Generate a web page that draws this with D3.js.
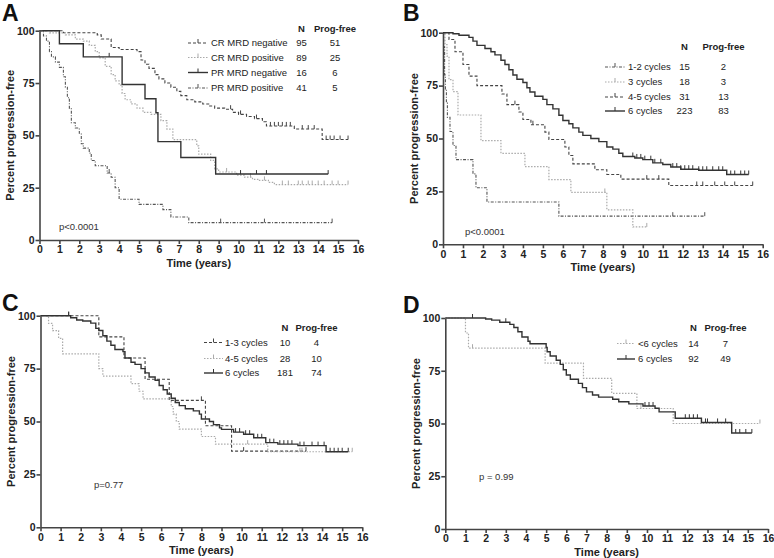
<!DOCTYPE html>
<html lang="en">
<head>
<meta charset="UTF-8">
<title>Progression-free survival, four panels</title>
<script src="https://d3js.org/d3.v7.min.js"></script>
<style>
    body { margin: 0; background: #fff; }
    svg { font-family: Arial, "Liberation Sans", sans-serif; }
    .tick text { font-weight: bold; font-size: 10.5px; fill: #222; }
    .axis path, .axis line { stroke: #444; stroke-width: 1.6; }
</style>
</head>
<body>
<svg id="chart" width="774" height="558"></svg>
<script>
// ---- data: [time in years, percent progression-free] ----
const xTicks = d3.range(0, 17);
const yTicks = [0, 25, 50, 75, 100];

// Panel A
const aCrNeg = [[0,100],[1.2,99],[2.9,98],[3.1,96],[3.6,92],[4.0,91],[4.9,90],[5.1,86],[5.3,84],[5.5,82],[5.8,79],[6.0,77],[6.3,75],[6.6,73],[6.9,71],[7.1,69],[7.4,67],[7.8,66],[8.2,65],[8.5,64],[8.8,63],[9.3,62.5],[9.7,61],[10.0,60],[10.4,59],[10.8,58],[11.2,56.5],[11.4,54.5],[12.8,53],[14.2,48]];
const aCrNegCens = [9.6,10.1,10.9,11.6,11.8,12.0,12.2,12.4,12.6,13.2,13.5,13.8,14.4,14.6,14.8,15.1,15.5];
const aCrPos = [[0,100],[0.5,99],[1.3,98],[1.8,96],[2.2,95],[2.5,93],[2.8,90],[3.0,87],[3.3,83],[3.6,79],[3.8,76],[4.0,74],[4.15,70],[4.3,67],[4.6,65],[4.9,63],[5.2,61],[5.6,60],[6.1,57],[6.4,53],[6.7,48],[7.9,45],[8.0,41],[8.6,38],[8.8,34],[9.0,32.5],[9.9,31],[10.3,30],[10.7,29],[11.0,28.5],[11.5,27.5],[11.8,26.5]];
const aCrPosCens = [9.4,10.6,11.3,12.2,12.5,13.0,13.2,13.5,13.7,14.0,14.3,14.7,15.0,15.5];
const aPrNeg = [[0,100],[1.0,93.75],[2.2,87.5],[4.15,74.3],[5.3,67.5],[5.85,60.8],[5.95,47],[7.1,39.4],[8.85,31.5]];
const aPrNegCens = [3.5,10.1,10.9,11.4,14.5];
const aPrPos = [[0,100],[0.2,97.5],[0.35,95],[0.5,90],[0.6,87.5],[0.8,85],[1.0,82.5],[1.2,78],[1.3,73],[1.4,68],[1.5,63],[1.6,56],[1.8,53.5],[2.0,51],[2.1,46],[2.2,43.9],[2.5,41.5],[2.6,38],[2.8,35.5],[3.4,32],[3.6,30],[3.8,25],[4.0,19.5],[5.0,17],[6.2,14.5],[6.6,11],[7.5,8.3]];
const aPrPosCens = [3.5,9.1,11.3,14.7];

// Panel B
const b12 = [[0,100],[0.03,93.3],[0.08,80],[0.12,73.3],[0.17,66.7],[0.22,60],[0.35,53.3],[0.5,46.7],[0.65,40],[1.5,33.3],[1.65,26.7],[2.2,20],[5.8,13.3]];
const b12Cens = [11.5,13.1];
const b3 = [[0,100],[0.1,94.4],[0.2,88.9],[0.3,77.8],[0.5,72.2],[0.75,61.1],[1.9,49],[2.9,43],[4.1,36.7],[5.3,30.6],[6.4,24.5],[8.2,16.3],[9.5,8.2]];
const b3Cens = [8.1,10.2];
const b45 = [[0,100],[0.3,96.8],[0.6,91],[1.0,85],[1.3,79.5],[1.7,75],[2.95,71],[3.2,66],[3.8,62.5],[4.0,59],[4.4,56.5],[5.1,53],[5.3,49.5],[6.1,46],[6.3,42],[6.5,38],[7.6,35.2],[8.2,33],[8.9,30.8],[11.3,27.8]];
const b45Cens = [3.6,4.5,10.2,10.8,12.7,13.0,13.6,14.1,14.6,15.5];
const b6 = [[0,100],[0.5,99.5],[0.8,98.8],[1.3,97.8],[1.5,96],[1.7,94],[2.1,92.5],[2.4,91],[2.6,89.5],[2.9,87],[3.1,85],[3.3,82.5],[3.5,80],[3.7,78],[4.0,76.5],[4.2,74],[4.35,72],[4.6,70],[5.0,68.5],[5.2,66],[5.5,64],[5.8,61],[6.0,58.5],[6.3,57],[6.5,55],[6.8,53],[7.0,51.5],[7.4,50],[7.8,48.5],[8.2,46],[8.5,45],[8.8,43],[9.0,41.5],[9.6,40.8],[10.0,40],[10.5,38.5],[11.0,37.7],[11.4,36.5],[11.9,35.5],[12.8,35],[14.2,33]];
const b6Cens = [9.5,9.7,9.9,10.1,10.4,10.6,10.9,11.5,11.7,11.9,12.1,12.3,12.5,12.8,13.0,13.2,13.5,13.8,14.0,14.4,14.6,14.9,15.1,15.3];

// Panel C
const c13 = [[0,100],[2.9,90],[4.15,80],[5.2,70],[6.4,60],[8.2,48],[9.5,36]];
const c13Cens = [1.4,8.0,10.1,13.2];
const c45 = [[0,100],[0.4,96.4],[0.6,92.9],[0.9,89.3],[1.1,82],[2.9,75],[3.1,71.4],[4.5,67.9],[4.9,64.3],[5.1,60.7],[6.5,57.1],[6.6,53.5],[6.75,50],[6.9,46.4],[8.0,42.9],[8.7,39.3],[11.3,35.7]];
const c45Cens = [10.3,12.9,13.0,15.5];
const c6 = [[0,100],[1.5,99],[1.8,98],[2.1,97.5],[2.5,96.5],[2.75,94],[2.9,93],[3.1,90.5],[3.3,88],[3.5,86],[3.7,84],[4.1,83],[4.2,80],[4.5,78],[4.7,77],[5.0,75],[5.2,73],[5.4,71],[5.7,69.5],[5.9,67],[6.1,65],[6.3,63],[6.5,61],[6.7,59],[6.9,57.5],[7.2,56],[7.6,55],[7.9,53.5],[8.0,51.2],[8.4,50],[8.6,48.5],[8.9,47],[9.0,46.3],[9.6,45],[10.1,44],[10.6,42.3],[11.2,40],[11.8,39.3],[12.8,38.6],[14.2,35.7]];
const c6Cens = [1.4,9.7,9.9,10.2,10.4,10.8,11.0,11.4,11.6,11.9,12.1,12.3,12.5,12.9,13.1,13.5,13.8,14.1,14.4,14.6,14.8,15.0,15.3];

// Panel D
const dLt6 = [[0,100],[1.0,92.9],[1.15,85.7],[4.95,78.6],[6.85,71.4],[8.25,64.3],[9.5,57.1],[11.3,50]];
const dLt6Cens = [1.35,9.7,12.7,15.6];
const d6 = [[0,100],[2.0,99.5],[2.3,99],[2.7,98],[3.2,97],[3.4,95.5],[3.6,93.5],[3.8,91],[4.1,89],[4.2,87.8],[5.0,86],[5.05,84],[5.2,82],[5.5,80],[5.7,78],[5.85,75.5],[6.0,73],[6.2,71],[6.6,69],[6.8,67],[7.0,65],[7.3,63.5],[7.6,62.5],[8.3,61.5],[8.6,60.3],[9.1,59.3],[9.8,58.3],[10.4,57.2],[10.6,55.5],[11.4,52.5],[12.7,50.5],[14.2,45.5]];
const d6Cens = [1.35,3.0,9.9,10.1,10.3,11.9,12.1,12.3,12.5,12.9,13.0,13.5,13.9,14.4,14.6,14.9,15.2];

// line styles used for the groups
const styles = {
    dashed:  { stroke: "#444", dash: "3,2",         width: 1.1 },
    dotted:  { stroke: "#aaa", dash: "1.5,1.5",     width: 1.2 },
    solid:   { stroke: "#333", dash: null,          width: 1.4 },
    dashdot: { stroke: "#555", dash: "3,1.5,1,1.5", width: 1.1 }
};

const svg = d3.select("#chart");

function drawPanel(p) {
    const x = d3.scaleLinear().domain([0, 16]).range([p.x0, p.x1]);
    const y = d3.scaleLinear().domain([0, 100]).range([p.y0, p.y1]);
    const g = svg.append("g");

    // curves
    p.series.forEach(s => {
        const st = styles[s.style];
        const last = s.steps[s.steps.length - 1];
        const pts = s.steps.concat([[s.end, last[1]]]);
        const line = d3.line().x(d => x(d[0])).y(d => y(d[1])).curve(d3.curveStepAfter);
        g.append("path")
            .attr("d", line(pts))
            .attr("fill", "none")
            .attr("stroke", st.stroke)
            .attr("stroke-width", st.width)
            .attr("stroke-dasharray", st.dash);

        // censor ticks
        const bis = d3.bisector(d => d[0]).right;
        g.selectAll(null)
            .data(s.cens)
            .enter().append("line")
            .attr("x1", t => x(t)).attr("x2", t => x(t))
            .attr("y1", t => y(s.steps[bis(s.steps, t) - 1][1]) - 4)
            .attr("y2", t => y(s.steps[bis(s.steps, t) - 1][1]))
            .attr("stroke", st.stroke)
            .attr("stroke-width", 1);
    });

    // axes
    g.append("g").attr("class", "axis")
        .attr("transform", `translate(0,${p.y0})`)
        .call(d3.axisBottom(x).tickValues(xTicks).tickSize(4).tickSizeOuter(0).tickPadding(2));
    g.append("g").attr("class", "axis")
        .attr("transform", `translate(${p.x0},0)`)
        .call(d3.axisLeft(y).tickValues(yTicks).tickSize(4).tickSizeOuter(0).tickPadding(1));

    // titles
    g.append("text")
        .attr("x", (p.x0 + p.x1) / 2).attr("y", p.y0 + 27)
        .attr("text-anchor", "middle")
        .attr("font-weight", "bold").attr("font-size", 11).attr("fill", "#222")
        .text("Time (years)");
    g.append("text")
        .attr("transform", `translate(${p.x0 - 25.5},${(p.y0 + p.y1) / 2}) rotate(-90)`)
        .attr("text-anchor", "middle")
        .attr("font-weight", "bold").attr("font-size", 11).attr("fill", "#222")
        .text("Percent progression-free");

    // panel letter
    g.append("text")
        .attr("x", p.letterX).attr("y", p.letterY)
        .attr("font-weight", 900).attr("font-size", 23).attr("fill", "#111")
        .text(p.letter);

    // p value
    g.append("text")
        .attr("x", p.pX).attr("y", p.pY)
        .attr("font-size", 9.5).attr("fill", "#333")
        .text(p.pText);

    // legend
    const L = p.legend;
    g.append("text").attr("x", L.nX).attr("y", L.headY)
        .attr("text-anchor", "middle").attr("font-weight", "bold").attr("font-size", 9.5)
        .attr("fill", "#222").text("N");
    g.append("text").attr("x", L.pfX).attr("y", L.headY)
        .attr("text-anchor", "middle").attr("font-weight", "bold").attr("font-size", 9.5)
        .attr("fill", "#222").text("Prog-free");
    p.series.forEach((s, i) => {
        const st = styles[s.style];
        const ry = L.rows[i];
        g.append("line")
            .attr("x1", L.lineX0).attr("x2", L.lineX1)
            .attr("y1", ry - 3).attr("y2", ry - 3)
            .attr("stroke", st.stroke).attr("stroke-width", st.width)
            .attr("stroke-dasharray", st.dash);
        const mx = (L.lineX0 + L.lineX1) / 2;
        g.append("line")
            .attr("x1", mx).attr("x2", mx).attr("y1", ry - 7).attr("y2", ry - 3)
            .attr("stroke", st.stroke).attr("stroke-width", 1);
        g.append("text").attr("x", L.labelX).attr("y", ry)
            .attr("font-size", 9.5).attr("fill", "#222").text(s.name);
        g.append("text").attr("x", L.nX).attr("y", ry)
            .attr("text-anchor", "middle").attr("font-size", 9.5).attr("fill", "#222").text(s.n);
        g.append("text").attr("x", L.pfX).attr("y", ry)
            .attr("text-anchor", "middle").attr("font-size", 9.5).attr("fill", "#222").text(s.pf);
    });
}

drawPanel({
    letter: "A", letterX: 2, letterY: 21,
    x0: 39.5, x1: 358, y0: 240, y1: 30.7,
    pText: "p<0.0001", pX: 59, pY: 230,
    legend: { headY: 32, rows: [46, 60.5, 75.5, 91], lineX0: 188, lineX1: 208, labelX: 211, nX: 301.5, pfX: 335 },
    series: [
        { name: "CR MRD negative", n: 95, pf: 51, style: "dashed",  steps: aCrNeg, end: 15.5, cens: aCrNegCens },
        { name: "CR MRD positive", n: 89, pf: 25, style: "dotted",  steps: aCrPos, end: 15.5, cens: aCrPosCens },
        { name: "PR MRD negative", n: 16, pf: 6,  style: "solid",   steps: aPrNeg, end: 14.5, cens: aPrNegCens },
        { name: "PR MRD positive", n: 41, pf: 5,  style: "dashdot", steps: aPrPos, end: 14.7, cens: aPrPosCens }
    ]
});

drawPanel({
    letter: "B", letterX: 403, letterY: 21,
    x0: 443, x1: 762.7, y0: 244.3, y1: 32.7,
    pText: "p<0.0001", pX: 465, pY: 234.5,
    legend: { headY: 50, rows: [70, 85, 100, 114], lineX0: 605, lineX1: 625, labelX: 628, nX: 684.5, pfX: 723.5 },
    series: [
        { name: "1-2 cycles", n: 15,  pf: 2,  style: "dashdot", steps: b12, end: 13.1, cens: b12Cens },
        { name: "3 cycles",   n: 18,  pf: 3,  style: "dotted",  steps: b3,  end: 10.2, cens: b3Cens },
        { name: "4-5 cycles", n: 31,  pf: 13, style: "dashed",  steps: b45, end: 15.5, cens: b45Cens },
        { name: "6 cycles",   n: 223, pf: 83, style: "solid",   steps: b6,  end: 15.3, cens: b6Cens }
    ]
});

drawPanel({
    letter: "C", letterX: 2, letterY: 311,
    x0: 40.5, x1: 362.3, y0: 527.3, y1: 315.7,
    pText: "p=0.77", pX: 94, pY: 487.5,
    legend: { headY: 330.5, rows: [345.5, 361.5, 376], lineX0: 204, lineX1: 223, labelX: 225, nX: 285, pfX: 316.5 },
    series: [
        { name: "1-3 cycles", n: 10,  pf: 4,  style: "dashed", steps: c13, end: 13.2, cens: c13Cens },
        { name: "4-5 cycles", n: 28,  pf: 10, style: "dotted", steps: c45, end: 15.5, cens: c45Cens },
        { name: "6 cycles",   n: 181, pf: 74, style: "solid",  steps: c6,  end: 15.3, cens: c6Cens }
    ]
});

drawPanel({
    letter: "D", letterX: 403, letterY: 313,
    x0: 445.3, x1: 768, y0: 529, y1: 318,
    pText: "p = 0.99", pX: 479, pY: 479.5,
    legend: { headY: 330.5, rows: [346.5, 362], lineX0: 617, lineX1: 635, labelX: 638, nX: 693.5, pfX: 725.5 },
    series: [
        { name: "<6 cycles", n: 14, pf: 7,  style: "dotted", steps: dLt6, end: 15.6, cens: dLt6Cens },
        { name: "6 cycles",  n: 92, pf: 49, style: "solid",  steps: d6,   end: 15.2, cens: d6Cens }
    ]
});
</script>
</body>
</html>
